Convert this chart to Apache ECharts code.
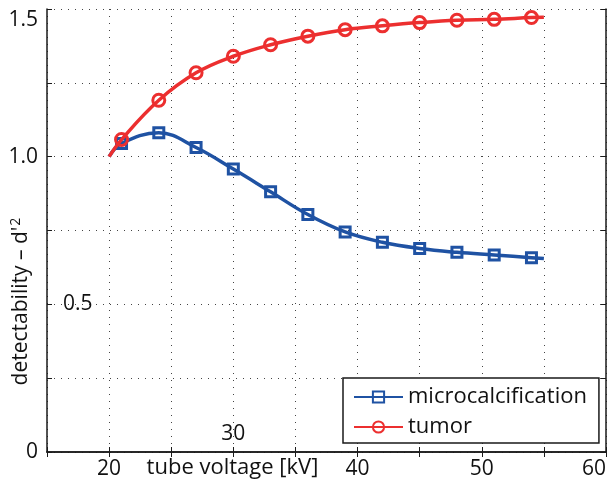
<!DOCTYPE html>
<html>
<head>
<meta charset="utf-8">
<script src="https://cdn.jsdelivr.net/npm/echarts@6/dist/echarts.min.js"></script>
<style>
  html, body { margin: 0; padding: 0; background: #fff; }
  #chart { width: 608px; height: 484px; }
</style>
</head>
<body>
<div id="chart"></div>
<script>
// Tube voltage (kV) at which the curves are sampled
const kv = [20, 21, 24, 27, 30, 33, 36, 39, 42, 45, 48, 51, 54, 55];
// Detectability d'^2 per lesion type
const microcalcification = [1.0, 1.045, 1.081, 1.031, 0.958, 0.881, 0.804, 0.745, 0.710, 0.689, 0.676, 0.667, 0.658, 0.655];
const tumor = [1.0, 1.058, 1.191, 1.284, 1.340, 1.379, 1.408, 1.430, 1.443, 1.454, 1.462, 1.465, 1.471, 1.472];
// Curve end points carry no marker
const unmarkedKv = [20, 55];

// Tick labels
const xLabelsBelow = [20, 40, 50, 60];
const xLabelsInside = [30];
const yLabelsOutside = [0, 1.0, 1.5];
const yLabelsInside = [0.5];

const FONT = 'Open Sans';
const FS = 21;
const BLUE = '#1f52a3';
const RED = '#ec2f2f';
const FRAME = '#1a1a1a';
const INK = '#111';

function fmtY(v) { return v === 0 ? '0' : v.toFixed(1); }

function toPoints(ys) {
  return kv.map((x, i) => unmarkedKv.includes(x)
    ? { value: [x, ys[i]], symbol: 'none' }
    : { value: [x, ys[i]] });
}

const gridLine = { show: true, lineStyle: { color: '#444', width: 1, type: [1, 6] } };
const tickIn = { show: true, inside: true, length: 5, lineStyle: { color: FRAME, width: 1 } };
const frameLine = { show: true, lineStyle: { color: FRAME, width: 1.5 } };

const chart = echarts.init(document.getElementById('chart'), null, { renderer: 'canvas' });

chart.setOption({
  animation: false,
  backgroundColor: '#fff',
  textStyle: { fontFamily: FONT },
  grid: { left: 47, right: 2, top: 9, bottom: 32, containLabel: false, outerBoundsMode: 'none' },
  xAxis: [
    {
      type: 'value', min: 15, max: 60, interval: 5, position: 'bottom',
      axisLine: frameLine, axisTick: tickIn, splitLine: gridLine,
      axisLabel: {
        margin: 7, fontSize: FS, color: INK, fontFamily: FONT,
        showMinLabel: true, showMaxLabel: true,
        formatter: v => {
          if (!xLabelsBelow.includes(v)) return '';
          return v === 60 ? '{edge|' + v + '}' : String(v);
        },
        rich: { edge: { fontSize: FS, fontFamily: FONT, color: INK, padding: [0, 24, 0, 0] } }
      },
      name: '{t|tube voltage [kV]}', nameLocation: 'middle', nameGap: 5, nameMoveOverlap: false,
      nameTextStyle: {
        verticalAlign: 'top',
        rich: { t: { fontSize: 22, fontFamily: FONT, color: INK, padding: [0, 188, 0, 0] } }
      }
    },
    {
      type: 'value', min: 15, max: 60, interval: 5, position: 'top',
      axisLine: frameLine, axisTick: tickIn, axisLabel: { show: false }, splitLine: { show: false }
    },
    {
      type: 'value', min: 15, max: 60, interval: 5, position: 'bottom',
      axisLine: { show: false }, axisTick: { show: false }, splitLine: { show: false },
      axisLabel: {
        inside: true, margin: 7, fontSize: FS, color: INK, fontFamily: FONT,
        formatter: v => xLabelsInside.includes(v) ? String(v) : ''
      }
    }
  ],
  yAxis: [
    {
      type: 'value', min: 0, max: 1.5, interval: 0.25, position: 'left',
      axisLine: frameLine, axisTick: tickIn, splitLine: gridLine,
      axisLabel: {
        margin: 9, fontSize: FS, color: INK, fontFamily: FONT,
        showMinLabel: true, showMaxLabel: true,
        formatter: v => {
          if (!yLabelsOutside.includes(v)) return '';
          return v === 1.5 ? '{low|' + fmtY(v) + '}' : fmtY(v);
        },
        rich: { low: { fontSize: FS, fontFamily: FONT, color: INK, padding: [22, 0, 0, 0] } }
      },
      name: "{t|detectability – d'}{s|2}", nameLocation: 'middle', nameGap: 14, nameRotate: 90,
      nameMoveOverlap: false,
      nameTextStyle: {
        rich: {
          t: { fontSize: 21, fontFamily: FONT, color: INK },
          s: { fontSize: 14, fontFamily: FONT, color: INK, padding: [0, 142, 10, 1] }
        }
      }
    },
    {
      type: 'value', min: 0, max: 1.5, interval: 0.25, position: 'right',
      axisLine: frameLine, axisTick: tickIn, axisLabel: { show: false }, splitLine: { show: false }
    },
    {
      type: 'value', min: 0, max: 1.5, interval: 0.25, position: 'left',
      axisLine: { show: false }, axisTick: { show: false }, splitLine: { show: false },
      axisLabel: {
        inside: true, margin: 16, fontSize: FS, color: INK, fontFamily: FONT,
        formatter: v => yLabelsInside.includes(v) ? fmtY(v) : ''
      }
    }
  ],
  legend: {
    orient: 'vertical', left: 343, top: 378,
    padding: [8, 12, 5, 10], itemGap: 8, itemWidth: 49, itemHeight: 14,
    backgroundColor: '#fff', borderColor: FRAME, borderWidth: 1.5, borderRadius: 0,
    textStyle: { fontSize: 22, fontFamily: FONT, color: INK, lineHeight: 22 },
    data: ['microcalcification', 'tumor']
  },
  series: [
    {
      name: 'microcalcification', type: 'line', xAxisIndex: 0, yAxisIndex: 0,
      data: toPoints(microcalcification), smooth: 0.4, showAllSymbol: true,
      symbol: 'rect', symbolSize: 10,
      lineStyle: { color: BLUE, width: 3.5 },
      itemStyle: { color: 'rgba(255,255,255,0)', borderColor: BLUE, borderWidth: 3 },
      emphasis: { disabled: true }, z: 3
    },
    {
      name: 'tumor', type: 'line', xAxisIndex: 0, yAxisIndex: 0,
      data: toPoints(tumor), smooth: 0.4, showAllSymbol: true,
      symbol: 'circle', symbolSize: 12,
      lineStyle: { color: RED, width: 3.5 },
      itemStyle: { color: 'rgba(255,255,255,0)', borderColor: RED, borderWidth: 3 },
      emphasis: { disabled: true }, z: 4
    }
  ]
});
</script>
</body>
</html>
